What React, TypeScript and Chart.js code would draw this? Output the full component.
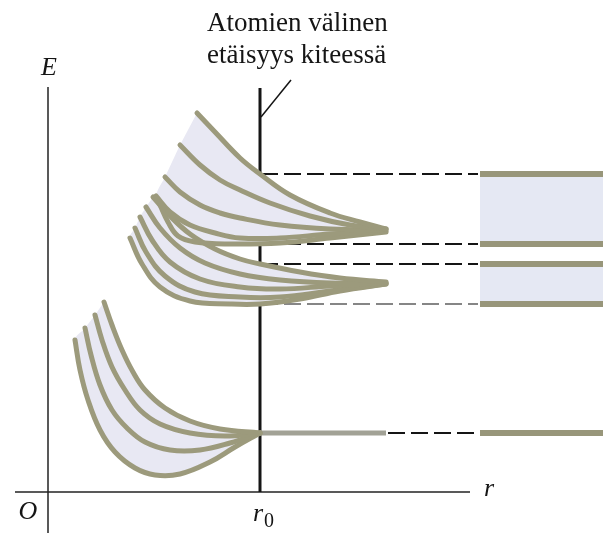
import { useEffect, useRef } from "react";
import { Chart, registerables } from "chart.js";

Chart.register(...registerables);

// r in arbitrary length units (origin at O), E in arbitrary energy units (E = 0 on the r axis)
const R0 = 212;
const R_MIN = -48;
const R_MAX = 555;
const E_MIN = -41;
const E_MAX = 492;

// Level energies where the bands meet the crystal spacing r0
const upperBandEdges = [318, 248];
const lowerBandEdges = [228, 188];
const coreLevel = 59;

// Where the dashed guides end and the band diagram on the right begins
const guideEndR = 430;
const bandStartR = 432;
const tipR = 338;

// Upper band: levels fanning out as the atoms come closer (top curve first)
const upper1 = [[149, 379], [167, 360], [192, 334], [212, 318], [242, 297], [282, 279], [312, 270], [338, 263]];
const upper2 = [[132, 347], [152, 327], [172, 312], [192, 302], [222, 289], [262, 276], [302, 267], [338, 263]];
const upper3 = [[117, 315], [132, 300], [152, 287], [172, 279], [192, 274], [232, 267], [282, 263], [338, 262]];
const upper4 = [[108, 296], [122, 280], [142, 267], [167, 259], [192, 254], [232, 254], [282, 258], [338, 261]];
const upper5 = [[112, 287], [120, 270], [130, 256], [147, 250], [182, 248], [232, 249], [282, 254], [338, 260]];

// Lower band (top curve first)
const lower1 = [[105, 295], [122, 276], [142, 258], [167, 243], [192, 233], [212, 228], [252, 220], [292, 214], [338, 210]];
const lower2 = [[98, 285], [112, 264], [132, 244], [157, 229], [192, 218], [232, 212], [282, 209], [338, 209]];
const lower3 = [[92, 275], [104, 252], [122, 230], [152, 213], [192, 205], [232, 203], [282, 206], [338, 209]];
const lower4 = [[87, 264], [98, 240], [117, 216], [147, 200], [192, 195], [232, 195], [282, 201], [338, 208]];
const lower5 = [[82, 254], [94, 228], [112, 205], [142, 191], [182, 188], [212, 188], [252, 193], [292, 201], [338, 208]];

// Inner level: narrow band that closes at r0 (top curve first)
const core1 = [[56, 190], [64, 167], [74, 142], [85, 120], [97, 102], [117, 84], [142, 71], [172, 63], [212, 59]];
const core2 = [[47, 177], [54, 152], [64, 125], [77, 102], [92, 82], [112, 68], [142, 59], [177, 56], [212, 59]];
const core3 = [[37, 164], [43, 137], [52, 107], [64, 82], [79, 64], [97, 50], [122, 42], [152, 42], [182, 49], [212, 59]];
const core4 = [[27, 152], [32, 122], [40, 92], [52, 62], [67, 40], [87, 24], [107, 17], [132, 18], [162, 30], [187, 45], [212, 59]];

// Axes and the r0 marker (the marker is hidden where the bands cover it)
const eAxis = [[0, E_MIN], [0, 405]];
const rAxis = [[-33, 0], [422, 0]];
const r0Top = 404;
const leader = [[R0 + 1, 375], [243, 412]];

const titleLines = ["Atomien välinen", "etäisyys kiteessä"];

const CURVE = "rgb(156,154,124)";
const BAND_LINE = "rgb(152,150,122)";
const FILL = "rgb(232,232,243)";
const BAND_FILL = "rgb(229,232,243)";
const INK = "#151515";

type Pt = number[];

const toXY = (pts: Pt[]) => pts.map(([x, y]) => ({ x, y }));

const path = (pts: Pt[], opts: Record<string, unknown> = {}) => ({
  data: toXY(pts),
  borderColor: CURVE,
  borderWidth: 5,
  pointRadius: 0,
  tension: 0.4,
  fill: false,
  borderCapStyle: "round",
  order: 2,
  ...opts,
});

// Closed outline of a fan of curves: top curve, bottom curve back, then the left ends
const fanShape = (curves: Pt[][]) => {
  const top = curves[0];
  const bottom = curves[curves.length - 1];
  const ends = curves.slice(1, -1).reverse().map((c) => c[0]);
  return [...top, ...[...bottom].reverse(), ...ends];
};

const shape = (pts: Pt[], color: string, tension = 0.4) => ({
  data: toXY(pts),
  borderWidth: 0,
  borderColor: "rgba(0,0,0,0)",
  backgroundColor: color,
  pointRadius: 0,
  tension,
  fill: "shape",
  order: 5,
});

const straight = (pts: Pt[], color: string, width: number, opts: Record<string, unknown> = {}) => ({
  data: toXY(pts),
  borderColor: color,
  borderWidth: width,
  pointRadius: 0,
  tension: 0,
  fill: false,
  order: 3,
  ...opts,
});

const upperCurves = [upper1, upper2, upper3, upper4, upper5];
const lowerCurves = [lower1, lower2, lower3, lower4, lower5];
const coreCurves = [core1, core2, core3, core4];

const bandRect = (hi: number, lo: number) => [
  [bandStartR, hi], [R_MAX, hi], [R_MAX, lo], [bandStartR, lo],
];

const allLevels = [...upperBandEdges, ...lowerBandEdges];

// visible pieces of the r0 marker: below the lower band, between the bands, above the upper band
const r0Pieces = [
  [[R0, 0], [R0, lowerBandEdges[1]]],
  [[R0, lowerBandEdges[0]], [R0, upperBandEdges[1]]],
  [[R0, upperBandEdges[0]], [R0, r0Top]],
];

const datasets = [
  // curves on top
  ...upperCurves.map((c) => path(c, { order: 1 })),
  ...lowerCurves.map((c) => path(c, { order: 2 })),
  ...coreCurves.map((c) => path(c, { order: 2 })),
  // core level continues past r0
  straight([[R0, coreLevel], [tipR, coreLevel]], "rgb(162,162,150)", 5, { order: 2 }),
  // band levels on the right
  ...[...allLevels, coreLevel].map((e) =>
    straight([[bandStartR, e], [R_MAX, e]], BAND_LINE, 6, { order: 3 })
  ),
  // dashed guides from r0
  ...upperBandEdges.map((e) =>
    straight([[R0 + 1, e], [guideEndR, e]], INK, 2, { borderDash: [17, 6], order: 4 })
  ),
  straight([[R0 + 1, lowerBandEdges[0]], [guideEndR, lowerBandEdges[0]]], INK, 2, {
    borderDash: [17, 6],
    order: 4,
  }),
  straight([[R0 + 1, lowerBandEdges[1]], [guideEndR, lowerBandEdges[1]]], "rgb(95,95,95)", 1.5, {
    borderDash: [17, 6],
    order: 4,
  }),
  straight([[tipR + 2, coreLevel], [guideEndR, coreLevel]], INK, 2, { borderDash: [17, 6], order: 4 }),
  // shaded regions
  shape(fanShape(upperCurves), FILL),
  shape(fanShape(lowerCurves), FILL),
  shape(fanShape(coreCurves), FILL),
  shape(bandRect(upperBandEdges[0], upperBandEdges[1]), BAND_FILL, 0),
  shape(bandRect(lowerBandEdges[0], lowerBandEdges[1]), BAND_FILL, 0),
  // axes, r0 marker
  ...r0Pieces.map((p) => straight(p, INK, 3, { order: 6 })),
  straight(leader, INK, 1.5, { order: 6 }),
  straight(eAxis, "#222", 1.5, { order: 6 }),
  straight(rAxis, "#222", 1.5, { order: 6 }),
];

const labelsPlugin = {
  id: "diagramLabels",
  afterDraw(chart: Chart) {
    const { ctx } = chart;
    const x = chart.scales.x;
    const y = chart.scales.y;
    const px = (r: number) => x.getPixelForValue(r);
    const py = (e: number) => y.getPixelForValue(e);
    ctx.save();
    ctx.fillStyle = INK;
    ctx.textBaseline = "alphabetic";

    // title above the leader line
    ctx.font = '27px "Liberation Serif", serif';
    ctx.textAlign = "left";
    ctx.fillText(titleLines[0], px(159), py(461));
    ctx.fillText(titleLines[1], px(159), py(429));

    ctx.font = 'italic 26px "Liberation Serif", serif';
    ctx.textAlign = "center";
    ctx.textBaseline = "middle";
    ctx.fillText("E", px(1), py(424));
    ctx.fillText("O", px(-20), py(-20));
    ctx.fillText("r", px(441), py(3));
    ctx.fillText("r", px(R0 - 2), py(-22));
    ctx.font = '20px "Liberation Serif", serif';
    ctx.fillText("0", px(R0 + 9), py(-30));
    ctx.restore();
  },
};

export default function App() {
  const ref = useRef<HTMLCanvasElement>(null);

  useEffect(() => {
    if (!ref.current) return;
    const chart = new Chart(ref.current, {
      type: "line",
      data: { datasets: datasets as any },
      options: {
        animation: false,
        responsive: false,
        devicePixelRatio: 1,
        layout: { padding: 0 },
        plugins: { legend: { display: false }, tooltip: { enabled: false }, title: { display: false } },
        scales: {
          x: { type: "linear", display: false, min: R_MIN, max: R_MAX },
          y: { type: "linear", display: false, min: E_MIN, max: E_MAX },
        },
        elements: { line: { borderJoinStyle: "round" } },
      },
      plugins: [labelsPlugin],
    });
    return () => chart.destroy();
  }, []);

  return (
    <div style={{ position: "absolute", left: 0, top: 0, width: 603, height: 533, background: "#fff" }}>
      <canvas ref={ref} width={603} height={533} style={{ display: "block", width: 603, height: 533 }} />
    </div>
  );
}
